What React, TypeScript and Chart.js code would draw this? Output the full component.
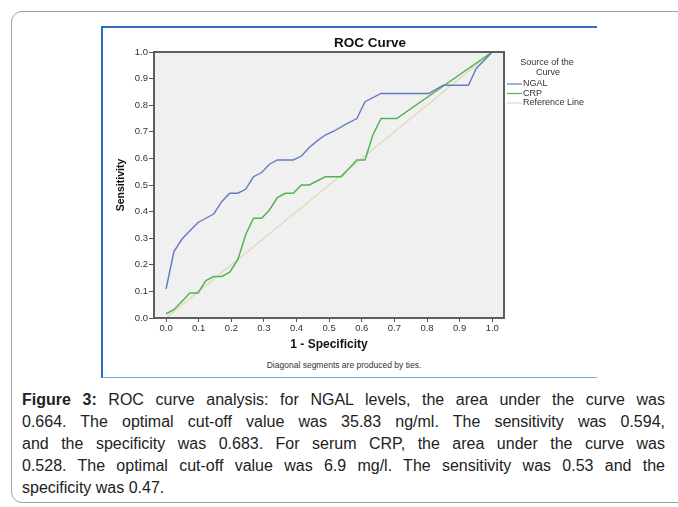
import React, { useEffect, useRef } from 'react';
import { Chart, registerables } from 'chart.js';

Chart.register(...registerables);

const FONT = '"Liberation Sans", Arial, sans-serif';

const CHART_TITLE = 'ROC Curve';
const X_TITLE = '1 - Specificity';
const Y_TITLE = 'Sensitivity';
const LEGEND_HEADER = ['Source of the', 'Curve'];
const SERIES_NAMES = ['NGAL', 'CRP', 'Reference Line'];
const SERIES_COLORS = ['#6479c4', '#52b452', '#e0d9b4'];

const X_TICKS = [0, 0.1, 0.2, 0.3, 0.4, 0.5, 0.6, 0.7, 0.8, 0.9, 1.0];
const Y_TICKS = [0, 0.1, 0.2, 0.3, 0.4, 0.5, 0.6, 0.7, 0.8, 0.9, 1.0];

const NGAL_FPR = [0.0, 0.024, 0.049, 0.073, 0.098, 0.122, 0.146, 0.171, 0.195, 0.22, 0.244, 0.268, 0.293, 0.317, 0.341, 0.39, 0.415, 0.439, 0.463, 0.488, 0.517, 0.55, 0.585, 0.61, 0.659, 0.805, 0.85, 0.927, 0.951, 1.0];
const NGAL_TPR = [0.109, 0.25, 0.297, 0.328, 0.359, 0.375, 0.391, 0.438, 0.469, 0.469, 0.484, 0.531, 0.547, 0.578, 0.594, 0.594, 0.609, 0.641, 0.666, 0.688, 0.704, 0.728, 0.75, 0.813, 0.844, 0.844, 0.875, 0.875, 0.938, 1.0];

const CRP_FPR = [0.0, 0.024, 0.049, 0.073, 0.098, 0.122, 0.146, 0.171, 0.195, 0.22, 0.244, 0.268, 0.293, 0.317, 0.341, 0.366, 0.39, 0.415, 0.439, 0.488, 0.537, 0.585, 0.61, 0.634, 0.659, 0.707, 1.0];
const CRP_TPR = [0.016, 0.031, 0.063, 0.094, 0.094, 0.141, 0.156, 0.156, 0.172, 0.219, 0.313, 0.375, 0.375, 0.406, 0.453, 0.469, 0.469, 0.5, 0.5, 0.531, 0.531, 0.594, 0.594, 0.688, 0.75, 0.75, 1.0];

const REF_X = [0, 1];
const REF_Y = [0, 1];

const NOTE = 'Diagonal segments are produced by ties.';
const CAPTION_LABEL = 'Figure 3:';
const CAPTION_LINES = [
  ' ROC curve analysis: for NGAL levels, the area under the curve was',
  '0.664. The optimal cut-off value was 35.83 ng/ml. The sensitivity was 0.594,',
  'and the specificity was 0.683. For serum CRP, the area under the curve was',
  '0.528. The optimal cut-off value was 6.9 mg/l. The sensitivity was 0.53 and the',
  'specificity was 0.47.',
];

const toPoints = (xs: number[], ys: number[]) => xs.map((x, i) => ({ x, y: ys[i] }));

const decor = {
  id: 'decor',
  beforeDraw(chart: any) {
    const { ctx, chartArea: a } = chart;
    ctx.save();
    ctx.fillStyle = '#f0f0f0';
    ctx.fillRect(a.left, a.top, a.right - a.left, a.bottom - a.top);
    ctx.restore();
  },
  afterDatasetsDraw(chart: any) {
    const { ctx, chartArea: a } = chart;
    ctx.save();
    ctx.strokeStyle = '#5e5e5e';
    ctx.lineWidth = 2;
    ctx.strokeRect(a.left, a.top, a.right - a.left, a.bottom - a.top);
    ctx.restore();
  },
  afterDraw(chart: any) {
    const { ctx, chartArea: a } = chart;
    ctx.save();
    ctx.fillStyle = '#111';
    ctx.font = `bold 13.5px ${FONT}`;
    ctx.textAlign = 'center';
    ctx.textBaseline = 'middle';
    ctx.fillText(CHART_TITLE, a.right - 134, a.top - 9);
    ctx.fillStyle = '#333';
    ctx.font = `9px ${FONT}`;
    ctx.fillText(LEGEND_HEADER[0], a.right + 43, a.top + 10.5);
    ctx.fillText(LEGEND_HEADER[1], a.right + 44, a.top + 20.5);
    ctx.textAlign = 'left';
    SERIES_NAMES.forEach((name, i) => {
      const y = a.top + 32 + i * 9.5;
      ctx.strokeStyle = SERIES_COLORS[i];
      ctx.lineWidth = 1.2;
      ctx.beginPath();
      ctx.moveTo(a.right + 3, y);
      ctx.lineTo(a.right + 18, y);
      ctx.stroke();
      ctx.fillStyle = '#333';
      ctx.fillText(name, a.right + 19, y);
    });
    ctx.restore();
  },
};

export default function App() {
  const ref = useRef<HTMLCanvasElement>(null);

  useEffect(() => {
    document.body.style.margin = '0';
    const chart = new Chart(ref.current as HTMLCanvasElement, {
      type: 'scatter',
      data: {
        datasets: [
          {
            label: SERIES_NAMES[0],
            data: toPoints(NGAL_FPR, NGAL_TPR),
            showLine: true,
            borderColor: SERIES_COLORS[0],
            borderWidth: 1.4,
            pointRadius: 0,
            tension: 0,
          },
          {
            label: SERIES_NAMES[1],
            data: toPoints(CRP_FPR, CRP_TPR),
            showLine: true,
            borderColor: SERIES_COLORS[1],
            borderWidth: 1.5,
            pointRadius: 0,
            tension: 0,
          },
          {
            label: SERIES_NAMES[2],
            data: toPoints(REF_X, REF_Y),
            showLine: true,
            borderColor: SERIES_COLORS[2],
            borderWidth: 1.2,
            pointRadius: 0,
            tension: 0,
          },
        ],
      },
      options: {
        responsive: false,
        animation: false,
        devicePixelRatio: 1,
        layout: { padding: { left: 0, top: 26, right: 93, bottom: 0 } },
        plugins: {
          legend: { display: false },
          title: { display: false },
          tooltip: { enabled: false },
        },
        scales: {
          x: {
            type: 'linear',
            min: -0.037,
            max: 1.036,
            afterBuildTicks: (s: any) => {
              s.ticks = X_TICKS.map((v) => ({ value: v }));
            },
            afterFit: (s: any) => {
              s.height = 38;
            },
            ticks: {
              callback: (v: any) => Number(v).toFixed(1),
              font: { size: 9.5, family: FONT },
              color: '#333',
              padding: 1,
              maxRotation: 0,
              autoSkip: false,
            },
            grid: { drawOnChartArea: false, drawTicks: true, tickLength: 4, tickColor: '#555' },
            border: { display: false },
            title: {
              display: true,
              text: X_TITLE,
              font: { size: 12, weight: 'bold', family: FONT },
              color: '#111',
              padding: { top: 0, bottom: 4 },
            },
          },
          y: {
            type: 'linear',
            min: 0,
            max: 1,
            afterBuildTicks: (s: any) => {
              s.ticks = Y_TICKS.map((v) => ({ value: v }));
            },
            afterFit: (s: any) => {
              s.width = 53;
            },
            ticks: {
              callback: (v: any) => Number(v).toFixed(1),
              font: { size: 9.5, family: FONT },
              color: '#333',
              padding: 1,
              autoSkip: false,
            },
            grid: { drawOnChartArea: false, drawTicks: true, tickLength: 5, tickColor: '#555' },
            border: { display: false },
            title: {
              display: true,
              text: Y_TITLE,
              font: { size: 10.5, weight: 'bold', family: FONT },
              color: '#111',
              padding: { top: 14, bottom: 0 },
            },
          },
        },
      } as any,
      plugins: [decor],
    });
    return () => chart.destroy();
  }, []);

  return (
    <div
      style={{
        position: 'absolute',
        left: 0,
        top: 0,
        width: 678,
        height: 507,
        overflow: 'hidden',
        background: '#fff',
        fontFamily: FONT,
      }}
    >
      <div
        style={{
          position: 'absolute',
          left: 11,
          top: 11,
          width: 720,
          height: 492,
          border: '1.5px solid #a3a3a3',
          borderRadius: 11,
          boxSizing: 'border-box',
        }}
      />
      <div
        style={{
          position: 'absolute',
          left: 101,
          top: 26,
          width: 496,
          height: 352,
          borderLeft: '2px solid #2d6cc0',
          borderTop: '2px solid #2d6cc0',
          borderBottom: '1px solid #7aa5dd',
          boxSizing: 'border-box',
        }}
      />
      <div style={{ position: 'absolute', left: 101, top: 26, width: 496, height: 330 }}>
        <canvas ref={ref} width={496} height={330} style={{ display: 'block' }} />
      </div>
      <div
        style={{
          position: 'absolute',
          left: 101,
          width: 496,
          top: 360,
          textAlign: 'center',
          fontSize: 8.5,
          color: '#333',
        }}
      >
        <span style={{ marginLeft: -10 }}>{NOTE}</span>
      </div>
      <div
        style={{
          position: 'absolute',
          left: 22,
          top: 389,
          width: 643,
          fontSize: 16,
          lineHeight: '22px',
          color: '#222',
        }}
      >
        {CAPTION_LINES.map((line, i) => (
          <div
            key={i}
            style={{
              textAlign: 'justify',
              textAlignLast: i < CAPTION_LINES.length - 1 ? 'justify' : 'left',
              whiteSpace: 'nowrap',
            }}
          >
            {i === 0 ? <b>{CAPTION_LABEL}</b> : null}
            {line}
          </div>
        ))}
      </div>
    </div>
  );
}
